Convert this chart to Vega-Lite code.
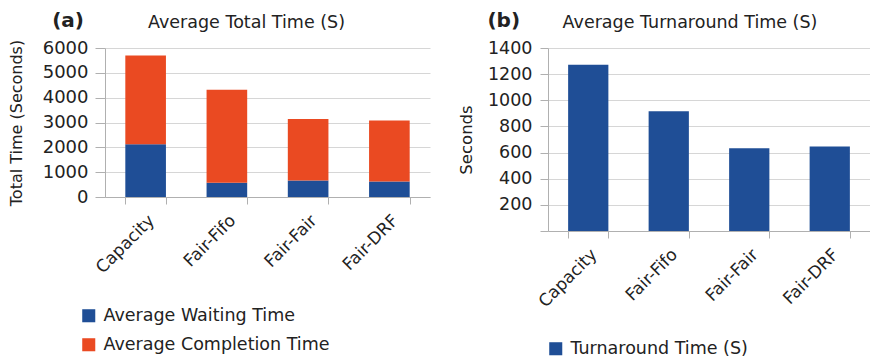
{
  "$schema": "https://vega.github.io/schema/vega-lite/v6.json",
  "background": "white",
  "padding": {"left": 8, "top": 10, "right": 0, "bottom": 0},
  "config": {
    "font": "DejaVu Sans",
    "view": {"stroke": null},
    "axis": {
      "gridColor": "#d6d6d6",
      "domainColor": "#b0b0b0",
      "tickColor": "#b0b0b0",
      "labelColor": "#222222",
      "titleColor": "#222222",
      "labelFontSize": 17,
      "titleFontSize": 16,
      "titleFontWeight": "normal"
    },
    "legend": {"labelFontSize": 17.5, "labelColor": "#222222", "labelLimit": 400},
    "title": {"color": "#222222"}
  },
  "spacing": 28,
  "resolve": {
    "scale": {"x": "independent", "y": "independent", "color": "independent"},
    "axis": {"x": "independent", "y": "independent"},
    "legend": {"color": "independent"}
  },
  "hconcat": [
    {
      "title": {"text": "(a)", "anchor": "start", "fontSize": 20, "fontWeight": "bold", "dx": 44, "dy": 17, "offset": 0},
      "vconcat": [
        {
          "width": 325,
          "height": 149,
          "title": {"text": "Average Total Time (S)", "fontSize": 17.5, "fontWeight": "normal", "dx": -21, "offset": 8},
          "data": {
            "values": [
              {"policy": "Capacity", "series": "Average Waiting Time", "value": 2125},
              {"policy": "Capacity", "series": "Average Completion Time", "value": 3575},
              {"policy": "Fair-Fifo", "series": "Average Waiting Time", "value": 570},
              {"policy": "Fair-Fifo", "series": "Average Completion Time", "value": 3745},
              {"policy": "Fair-Fair", "series": "Average Waiting Time", "value": 665},
              {"policy": "Fair-Fair", "series": "Average Completion Time", "value": 2480},
              {"policy": "Fair-DRF", "series": "Average Waiting Time", "value": 625},
              {"policy": "Fair-DRF", "series": "Average Completion Time", "value": 2455}
            ]
          },
          "mark": {"type": "bar"},
          "encoding": {
            "x": {
              "field": "policy", "type": "nominal", "sort": null,
              "scale": {"paddingInner": 0.5, "paddingOuter": 0.25},
              "axis": {"title": null, "labelAngle": -45, "tickBand": "extent", "tickSize": 7, "labelPadding": 8, "grid": false}
            },
            "y": {
              "field": "value", "type": "quantitative", "stack": "zero",
              "scale": {"domain": [0, 6000], "nice": false},
              "axis": {"title": "Total Time (Seconds)", "values": [0, 1000, 2000, 3000, 4000, 5000, 6000], "labelFontSize": 18, "tickSize": 10, "labelPadding": 7, "titlePadding": 18, "format": "d"}
            },
            "color": {
              "field": "series", "type": "nominal",
              "scale": {"domain": ["Average Waiting Time", "Average Completion Time"], "range": ["#1f4e96", "#ea4a22"]},
              "legend": {"title": null, "orient": "none", "legendX": -25, "legendY": 259, "symbolType": "square", "symbolSize": 170, "symbolStrokeWidth": 0, "rowPadding": 10, "labelOffset": 6}
            },
            "order": {"field": "series", "sort": "descending"}
          }
        }
      ]
    },
    {
      "title": {"text": "(b)", "anchor": "start", "fontSize": 20, "fontWeight": "bold", "dx": 29, "dy": 17, "offset": 0},
      "vconcat": [
        {
          "width": 322,
          "height": 183,
          "title": {"text": "Average Turnaround Time (S)", "fontSize": 17.5, "fontWeight": "normal", "dx": -19, "offset": 8},
          "data": {
            "values": [
              {"policy": "Capacity", "series": "Turnaround Time (S)", "value": 1272},
              {"policy": "Fair-Fifo", "series": "Turnaround Time (S)", "value": 916},
              {"policy": "Fair-Fair", "series": "Turnaround Time (S)", "value": 634},
              {"policy": "Fair-DRF", "series": "Turnaround Time (S)", "value": 646}
            ]
          },
          "mark": {"type": "bar"},
          "encoding": {
            "x": {
              "field": "policy", "type": "nominal", "sort": null,
              "scale": {"paddingInner": 0.5, "paddingOuter": 0.25},
              "axis": {"title": null, "labelAngle": -45, "tickBand": "extent", "tickSize": 7, "labelPadding": 8, "grid": false}
            },
            "y": {
              "field": "value", "type": "quantitative",
              "scale": {"domain": [0, 1400], "nice": false},
              "axis": {"title": "Seconds", "values": [0, 200, 400, 600, 800, 1000, 1200, 1400], "labelExpr": "datum.value == 0 ? '' : datum.label", "labelFontSize": 17.5, "tickSize": 8, "labelPadding": 8, "titlePadding": 13, "titleFontSize": 16.5, "format": "d"}
            },
            "color": {
              "field": "series", "type": "nominal",
              "scale": {"domain": ["Turnaround Time (S)"], "range": ["#1f4e96"]},
              "legend": {"title": null, "orient": "none", "legendX": -1, "legendY": 292, "symbolType": "square", "symbolSize": 170, "symbolStrokeWidth": 0, "labelOffset": 6}
            }
          }
        }
      ]
    }
  ]
}
